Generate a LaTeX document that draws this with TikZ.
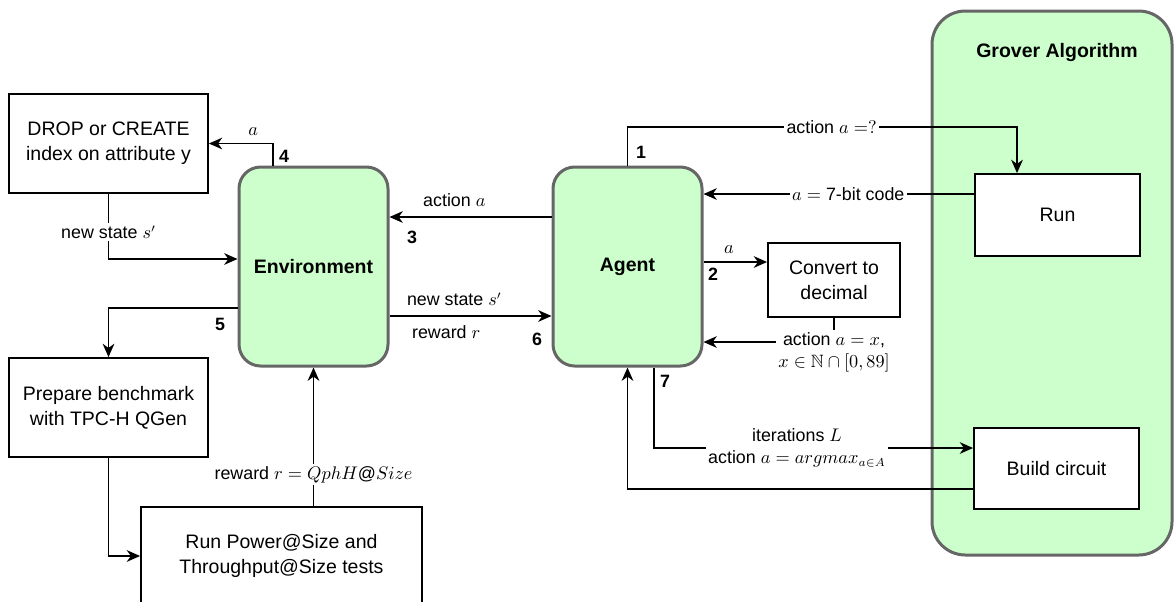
\documentclass[tikz,border=0pt]{standalone}
\usepackage{fontspec}
\setmainfont{Liberation Sans}
\usepackage{amsmath,amssymb}
\usetikzlibrary{arrows.meta}
\definecolor{grnfill}{HTML}{CCFFCC}
\definecolor{grnline}{HTML}{666666}

\begin{document}
\begin{tikzpicture}[x=0.6pt,y=-0.6pt,
  font=\fontsize{11.7}{15}\selectfont,
  box/.style={draw,line width=1.1pt,fill=white,align=center,inner sep=0pt},
  grn/.style={draw=grnline,line width=1.8pt,fill=grnfill,rounded corners=13pt,inner sep=0pt,
              minimum width=89.4pt,minimum height=119.4pt,
              font=\fontsize{11.7}{15}\selectfont\bfseries},
  ar/.style={line width=1pt,-{Stealth[length=8pt,width=7pt,inset=2.5pt]}},
  lbl/.style={font=\fontsize{10.7}{13.2}\selectfont,inner sep=1.5pt,align=center},
  wlbl/.style={lbl,fill=white},
  num/.style={font=\fontsize{10.7}{13.2}\selectfont\bfseries,inner sep=0pt}]
\clip (0,0) rectangle (1175,601);
% Grover part
\node[draw=grnline,line width=1.8pt,fill=grnfill,rounded corners=20pt,
      minimum width=144pt,minimum height=326.4pt] (grover) at (1052,283) {};
\node[font=\fontsize{11.7}{15}\selectfont\bfseries] (title) at (1057,52) {Grover Algorithm};
\node[box,minimum width=99pt,minimum height=49.2pt] (run) at (1057.5,215) {Run};
\node[box,minimum width=99pt,minimum height=48.6pt] (build) at (1056.5,468.5) {Build circuit};
% RL loop
\node[grn] (env) at (313.5,266.5) {Environment};
\node[grn] (agent) at (627.5,266.5) {Agent};
\node[box,minimum width=119.4pt,minimum height=59.4pt] (drop) at (108.5,143.5)
  {DROP or CREATE\\index on attribute y};
\node[box,minimum width=119.4pt,minimum height=59.4pt] (prep) at (108.5,407.5)
  {Prepare benchmark\\with TPC-H QGen};
\node[box,minimum width=168.6pt,minimum height=58.8pt] (power) at (281.5,556)
  {Run Power@Size and\\Throughput@Size tests};
\node[box,minimum width=79.2pt,minimum height=44.4pt] (conv) at (834,280)
  {Convert to\\decimal};

% connectors
\draw[ar] (agent.north) |- (1017,127) node[wlbl,pos=0.762] {action $a=?$} -- (run.north -| 1017,0);
\draw[ar] ([yshift=12.6pt]run.west) -- ([yshift=12.6pt]run.west -| agent.east)
  node[wlbl,pos=0.465] {$a=$ 7-bit code};
\draw[ar] ([yshift=29.7pt]agent.west) -- ([yshift=29.7pt]env.east)
  node[lbl,pos=0.6,above=4.5pt] {action $a$};
\draw[ar] ([xshift=-24.3pt]env.north) |- (drop.east)
  node[lbl,pos=0.654,above=2.8pt] {$a$};
\draw[ar] (drop.south) |- ([yshift=4.5pt]env.west)
  node[wlbl,pos=0.295] {new state $s'$};
\draw[ar] ([yshift=-24.9pt]env.west) -| (prep.north);
\draw[ar] ([yshift=-29.7pt]env.east) -- ([yshift=-29.7pt]agent.west)
  node[lbl,pos=0.4,above=4pt] {new state $s'$}
  node[lbl,pos=0.35,below=4pt] {reward $r$};
\draw[ar] (prep.south) |- (power.west);
\draw[ar] (power.north -| env.south) -- (env.south)
  node[wlbl,pos=0.227] {reward $r = QphH@Size$};
\draw[ar] ([yshift=2.7pt]agent.east) -- ([yshift=2.7pt]agent.east -| conv.west)
  node[lbl,pos=0.4,above=3.2pt] {$a$};
\draw[ar] (conv.south) |- ([yshift=-45.3pt]agent.east)
  node[wlbl,pos=0.5,yshift=-6pt] {action $a=x$,\\$x\in\mathbb{N}\cap[0,89]$};
\draw[ar] ([xshift=15.9pt]agent.south) |- ([yshift=12.3pt]build.west)
  node[wlbl,pos=0.724] {iterations $L$\\action $a = argmax_{a\in A}$};
\draw[ar] ([yshift=-12.3pt]build.west) -| (agent.south);

% step numbers
\node[num] (n1) at (641,152) {1};
\node[num] (n2) at (713,274) {2};
\node[num] (n3) at (412,237) {3};
\node[num] (n4) at (284,156) {4};
\node[num] (n5) at (220,324) {5};
\node[num] (n6) at (537,339) {6};
\node[num] (n7) at (665,381) {7};
\end{tikzpicture}
\end{document}
